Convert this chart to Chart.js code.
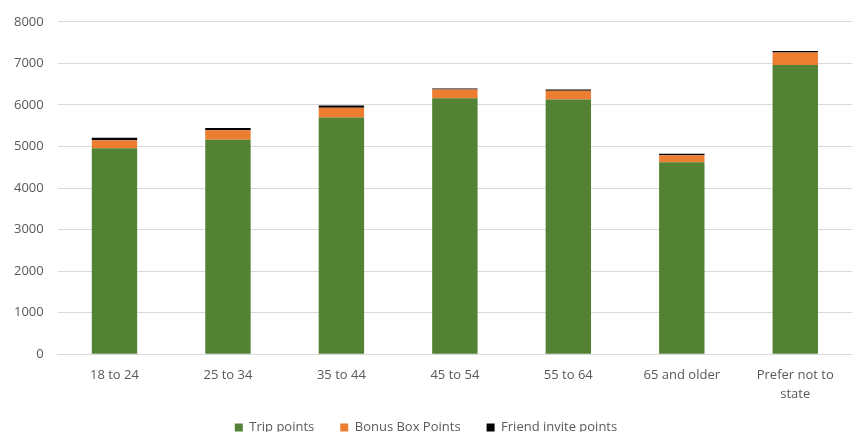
<!DOCTYPE html>
<html>
<head>
<meta charset="utf-8">
<script src="https://cdn.jsdelivr.net/npm/chart.js@4"></script>
<style>
  html, body { margin: 0; padding: 0; background: #fff; }
  #wrap { width: 852px; height: 432px; }
</style>
</head>
<body>
<div id="wrap"><canvas id="barChart"></canvas></div>
<script>
const ageGroups = ['18 to 24', '25 to 34', '35 to 44', '45 to 54', '55 to 64', '65 and older', ['Prefer not to', 'state']];
const tripPoints = [4960, 5160, 5700, 6160, 6130, 4620, 6960];
const bonusBoxPoints = [190, 230, 235, 210, 210, 170, 300];
const friendInvitePoints = [60, 55, 50, 25, 30, 35, 40];
const yTicks = [0, 1000, 2000, 3000, 4000, 5000, 6000, 7000, 8000];

// legend sits closer to the axis than chart.js would put it
const legendTighten = {
    id: 'legendTighten',
    beforeInit: function (chart) {
        const origFit = chart.legend.fit;
        chart.legend.fit = function () {
            origFit.call(this);
            this.height -= 25;
        };
    },
    beforeDraw: function (chart) {
        chart.legend.top -= 13;
    }
};

let ctx = document.getElementById('barChart').getContext('2d');
let barChart = new Chart(ctx, {
    type: 'bar',
    data: {
        labels: ageGroups,
        datasets: [{
            label: 'Trip points',
            data: tripPoints,
            backgroundColor: '#548235'
        },
        {
            label: 'Bonus Box Points',
            data: bonusBoxPoints,
            backgroundColor: '#ED7D31'
        },
        {
            label: 'Friend invite points',
            data: friendInvitePoints,
            backgroundColor: '#000000'
        }]
    },
    plugins: [legendTighten],
    options: {
        responsive: true,
        maintainAspectRatio: false,
        animation: false,
        datasets: {
            bar: { categoryPercentage: 1, barPercentage: 0.4 }
        },
        layout: { padding: { top: 10, right: 0, left: 0, bottom: 0 } },
        plugins: {
            legend: {
                position: 'bottom',
                labels: {
                    usePointStyle: true,
                    pointStyle: 'rect',
                    boxWidth: 8,
                    boxHeight: 8,
                    padding: 26,
                    color: '#595959',
                    font: { family: 'Open Sans', size: 13 }
                }
            },
            tooltip: { enabled: false }
        },
        scales: {
            x: {
                stacked: true,
                grid: { display: false },
                border: { color: '#d9d9d9' },
                ticks: {
                    color: '#595959',
                    font: { family: 'Open Sans', size: 13, lineHeight: 1.45 },
                    maxRotation: 0,
                    padding: 4
                }
            },
            y: {
                stacked: true,
                min: 0,
                max: 8000,
                afterBuildTicks: function (axis) {
                    axis.ticks = yTicks.map(v => ({ value: v }));
                },
                grid: { color: '#d9d9d9', drawTicks: false },
                border: { display: false },
                ticks: {
                    color: '#595959',
                    font: { family: 'Open Sans', size: 13 },
                    padding: 14,
                    callback: function (value) {
                        return String(value);
                    }
                }
            }
        }
    }
});
</script>
</body>
</html>
